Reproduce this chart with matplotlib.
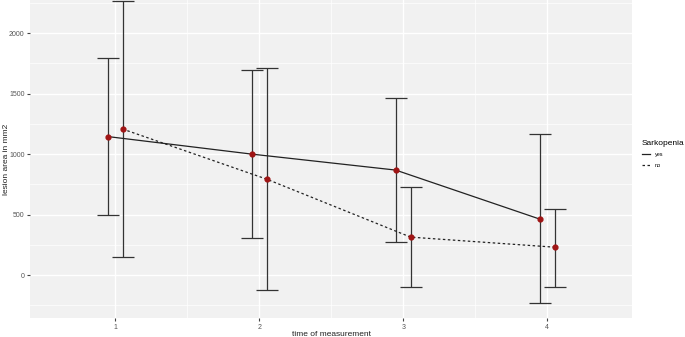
import numpy as np
import matplotlib.pyplot as plt
from matplotlib.lines import Line2D

plt.rcParams['font.family'] = ['Liberation Sans', 'DejaVu Sans']

# data
times = [1, 2, 3, 4]
yes_mean = [1145, 1000, 868, 463]
yes_low = [500, 306, 273, -231]
yes_high = [1793, 1694, 1463, 1165]
no_mean = [1207, 793, 314, 231]
no_low = [149, -124, -99, -99]
no_high = [2264, 1711, 727, 545]

dodge = 0.052
fig = plt.figure(figsize=(6.85, 3.37), dpi=100)
ax = fig.add_axes([0.044, 0.056, 0.879, 0.944])
ax.set_facecolor('#F1F1F1')

t = np.array(times, dtype=float)
for off, mean, lo, hi, ls in [(-dodge, yes_mean, yes_low, yes_high, '-'),
                              (dodge, no_mean, no_low, no_high, (0, (2, 2)))]:
    mean = np.array(mean)
    err = [mean - np.array(lo), np.array(hi) - mean]
    ax.errorbar(t + off, mean, yerr=err, fmt='none', ecolor='#333333',
                elinewidth=0.9, capsize=8, capthick=0.9, zorder=3)
    ax.plot(t + off, mean, color='#222222', linestyle=ls, linewidth=0.9, zorder=4)
    ax.scatter(t + off, mean, s=12, color='#A01515', zorder=5)

ax.set_xlim(0.41, 4.59)
ax.set_ylim(-355, 2273)
ax.set_xticks(times)
ax.set_yticks([0, 500, 1000, 1500, 2000])
ax.set_xticks([1.5, 2.5, 3.5], minor=True)
ax.set_yticks([-250, 250, 750, 1250, 1750, 2250], minor=True)
ax.grid(True, which='major', color='white', linewidth=1.0)
ax.grid(True, which='minor', color='white', linewidth=0.5)
ax.set_axisbelow(True)
for s in ax.spines.values():
    s.set_visible(False)
ax.tick_params(which='major', length=2, color='#444444', labelsize=5, labelcolor='#555555', pad=2)
ax.tick_params(which='minor', length=0)
ax.set_xlabel('time of measurement', fontsize=6, color='#222222')
ax.set_ylabel('lesion area in mm2', fontsize=6, color='#222222')
ax.xaxis.set_label_coords(0.5, -0.041)
ax.yaxis.set_label_coords(-0.033, 0.5)

handles = [Line2D([], [], color='#222222', lw=0.9, linestyle='-'),
           Line2D([], [], color='#222222', lw=0.9, linestyle=(0, (2, 2)))]
leg = fig.legend(handles, ['yes', 'no'], title='Sarkopenia', loc='upper left',
                 bbox_to_anchor=(0.93, 0.6), frameon=False, fontsize=4,
                 title_fontsize=6, handlelength=1.5, handletextpad=0.8,
                 labelspacing=1.0)
leg._legend_box.align = 'left'

fig.savefig('out.png', dpi=100)
